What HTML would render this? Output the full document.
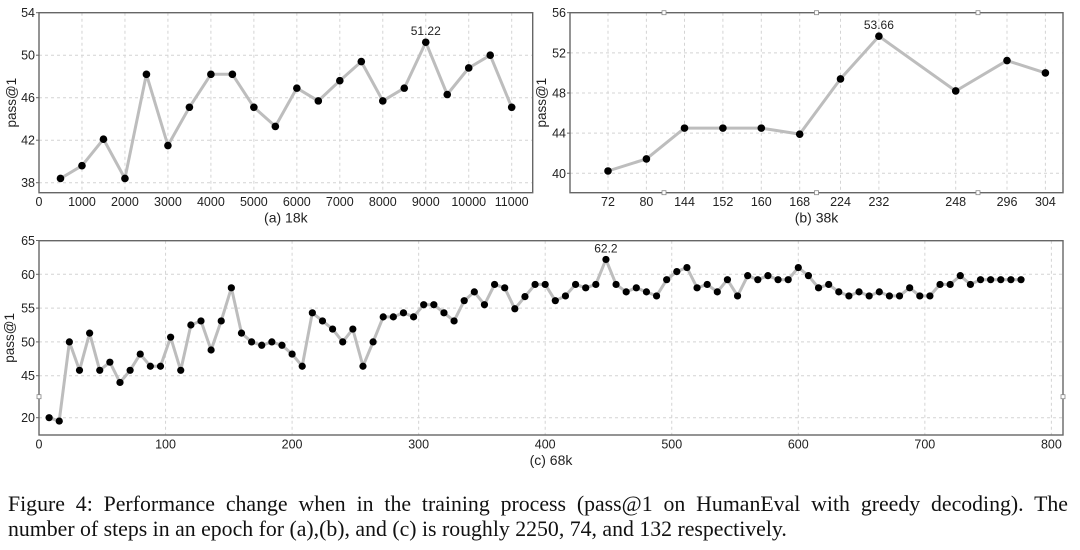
<!DOCTYPE html>
<html><head><meta charset="utf-8">
<style>
html,body{margin:0;padding:0;background:#fff;}
body{width:1080px;height:550px;position:relative;overflow:hidden;}
svg{position:absolute;left:0;top:0;}
svg text{font-family:"Liberation Sans",sans-serif;fill:#222;}
.cap{position:absolute;left:8px;width:1060px;font-family:"Liberation Serif",serif;font-size:21.8px;color:#111;white-space:nowrap;line-height:24px;}
</style></head>
<body>
<svg id="fig" width="1080" height="550"></svg>
<div class="cap" style="top:492px;text-align:justify;text-align-last:justify;">Figure 4: Performance change when in the training process (pass@1 on HumanEval with greedy decoding). The</div>
<div class="cap" style="top:517px;">number of steps in an epoch for (a),(b), and (c) is roughly 2250, 74, and 132 respectively.</div>
<script>
// ---- chart (a) data ----
const aSteps = [500,1000,1500,2000,2500,3000,3500,4000,4500,5000,5500,6000,6500,7000,7500,8000,8500,9000,9500,10000,10500,11000];
const aValues = [38.4,39.6,42.1,38.4,48.2,41.5,45.1,48.2,48.2,45.1,43.3,46.9,45.7,47.6,49.4,45.7,46.9,51.22,46.3,48.8,50.0,45.1];
const aXTicks = [0,1000,2000,3000,4000,5000,6000,7000,8000,9000,10000,11000];
const aYTicks = [38,42,46,50,54];
const aPeakLabel = "51.22";
// ---- chart (b) data ----
const bSteps = [72,80,144,152,160,168,224,232,248,296,304];
const bValues = [40.23,41.43,44.5,44.5,44.5,43.9,49.4,53.66,48.2,51.23,50.0];
const bYTicks = [40,44,48,52,56];
const bPeakLabel = "53.66";
// ---- chart (c) data ----
const cSteps = [8,16,24,32,40,48,56,64,72,80,88,96,104,112,120,128,136,144,152,160,168,176,184,192,200,208,216,224,232,240,248,256,264,272,280,288,296,304,312,320,328,336,344,352,360,368,376,384,392,400,408,416,424,432,440,448,456,464,472,480,488,496,504,512,520,528,536,544,552,560,568,576,584,592,600,608,616,624,632,640,648,656,664,672,680,688,696,704,712,720,728,736,744,752,760,768,776];
const cValues = [20,19.5,50,45.8,51.3,45.8,47.0,44.0,45.8,48.2,46.4,46.4,50.7,45.8,52.5,53.1,48.8,53.1,58.0,51.3,50.0,49.5,50.0,49.5,48.2,46.4,54.3,53.1,51.9,50.0,51.9,46.4,50.0,53.7,53.7,54.3,53.7,55.5,55.5,54.3,53.1,56.1,57.4,55.5,58.5,58.0,54.9,56.7,58.5,58.5,56.1,56.8,58.5,58.0,58.5,62.2,58.5,57.4,58.0,57.4,56.8,59.2,60.4,61.0,58.0,58.5,57.4,59.2,56.8,59.8,59.2,59.8,59.2,59.2,61.0,59.8,58.0,58.5,57.4,56.8,57.4,56.8,57.4,56.8,56.8,58.0,56.8,56.8,58.5,58.5,59.8,58.5,59.2,59.2,59.2,59.2,59.2];
const cXTicks = [0,100,200,300,400,500,600,700,800];
const cYTicks = [20,45,50,55,60,65];
const cPeakLabel = "62.2";

const NS="http://www.w3.org/2000/svg";
const svg=document.getElementById('fig');
function mk(tag,attrs,parent){const e=document.createElementNS(NS,tag);for(const k in attrs)e.setAttribute(k,attrs[k]);(parent||svg).appendChild(e);return e;}
function txt(s,x,y,size,anchor,parent){const t=mk('text',{x:x,y:y,'font-size':size,'text-anchor':anchor||'middle'},parent);t.textContent=s;return t;}

function drawChart(o){
  const g=mk('g',{});
  
  
  o.yTicks.forEach(v=>{const y=o.ys(v);
    if(y>o.T+1){const l=mk('line',{x1:o.L,x2:o.R,y1:y,y2:y,stroke:'#d4d4d4','stroke-width':1,'stroke-dasharray':'3,3'},g);
      }
    const t=txt(String(v),o.L-4,y+4.5,12.5,'end',g);
    
    mk('line',{x1:o.L-3,x2:o.L,y1:y,y2:y,stroke:'#666'},g);
  });
  o.xTicks.forEach(v=>{const x=o.xs(v);
    if(x>o.L+1&&x<o.R-1){const l=mk('line',{x1:x,x2:x,y1:o.T,y2:o.B,stroke:'#d4d4d4','stroke-width':1,'stroke-dasharray':'3,3'},g);
      }
    const t=txt(String(v),x,o.B+13.5,12.5,'middle',g);
    
  });
  const f=mk('rect',{x:o.L,y:o.T,width:o.R-o.L,height:o.B-o.T,fill:'none',stroke:'#666','stroke-width':1.4},g);
  
  const pts=o.xv.map((s,i)=>o.xs(s).toFixed(1)+','+o.ys(o.yv[i]).toFixed(1)).join(' ');
  const pl=mk('polyline',{points:pts,fill:'none',stroke:'#bdbdbd','stroke-width':3,'stroke-linejoin':'round'},g);
  
  let peak=0;
  o.xv.forEach((s,i)=>{
    if(o.yv[i]>o.yv[peak])peak=i;
    const c=mk('circle',{cx:o.xs(s),cy:o.ys(o.yv[i]),r:o.r,fill:'#000'},g);
    
  });
  const pk=txt(o.peakLabel,o.xs(o.xv[peak]),o.ys(o.yv[peak])-7,12,'middle',g);
  
  const yl=txt('pass@1',0,0,13.5,'middle',g);
  yl.setAttribute('transform','translate('+o.ylx+','+((o.T+o.B)/2)+') rotate(-90)');
  
  const tt=txt(o.title,(o.L+o.R)/2,o.B+30,14,'middle',g);
  
  return g;
}

drawChart({name:'chart-a',L:39,R:532.7,T:12.7,B:192.7,r:3.8,ylx:16,title:'(a)  18k',
  xs:v=>39+v*(472.7/11000), ys:v=>182.7-(v-38)*10.625,
  xv:aSteps,yv:aValues,xTicks:aXTicks,yTicks:aYTicks,peakLabel:aPeakLabel});

const bSegStart=[72,144,224,296], bSegPx=[608,684.5,840.5,1007];
function bx(v){let k=0;for(let i=0;i<bSegStart.length;i++)if(v>=bSegStart[i])k=i;return bSegPx[k]+(v-bSegStart[k])*4.8;}
const gb=drawChart({name:'chart-b',L:570,R:1063,T:12.7,B:192.7,r:3.8,ylx:546,title:'(b)  38k',
  xs:bx, ys:v=>173.3-(v-40)*10.04,
  xv:bSteps,yv:bValues,xTicks:bSteps,yTicks:bYTicks,peakLabel:bPeakLabel});
[664,816.5,978].forEach(x=>{[12.7,192.7].forEach(y=>{
  const m=mk('rect',{x:x-2,y:y-2,width:4,height:4,fill:'#fff',stroke:'#888','stroke-width':0.8},gb);
  });});

function cy(v){return v>=40?375.7-(v-45)*6.76:417.7-(v-20)*6.76;}
const gc=drawChart({name:'chart-c',L:39,R:1063,T:240.7,B:435,r:3.6,ylx:14,title:'(c)  68k',
  xs:v=>39+v*1.2655, ys:cy,
  xv:cSteps,yv:cValues,xTicks:cXTicks,yTicks:cYTicks,peakLabel:cPeakLabel});
[[39,396.7],[1063,396.7]].forEach(p=>{
  const m=mk('rect',{x:p[0]-2,y:p[1]-2,width:4,height:4,fill:'#fff',stroke:'#888','stroke-width':0.8},gc);
  });
</script>
</body></html>
